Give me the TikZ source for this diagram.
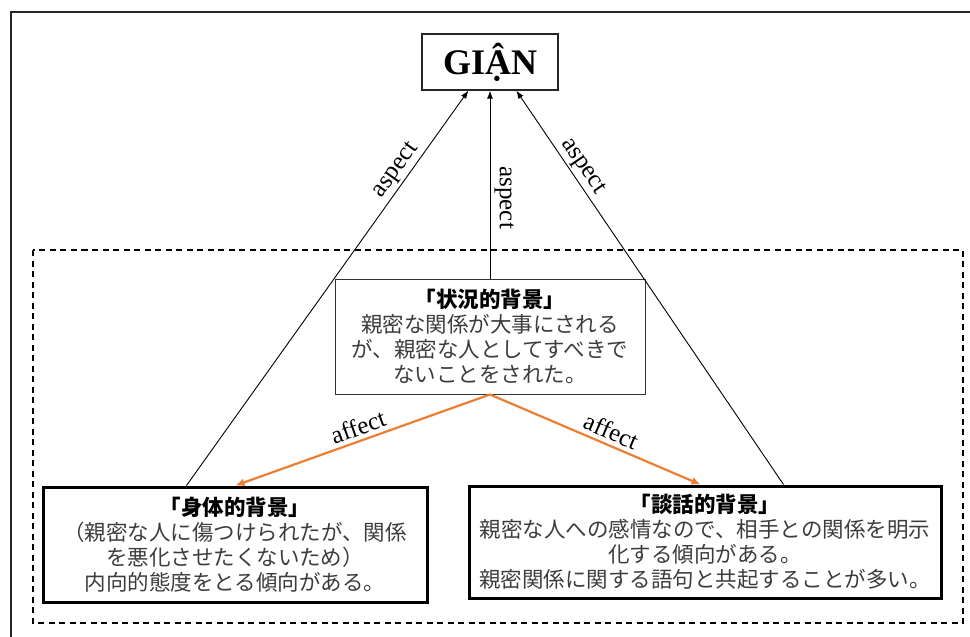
\documentclass[tikz,border=0pt]{standalone}
\usepackage{fontspec}
\setmainfont{Liberation Serif}
\newfontfamily\jp{Noto Sans CJK JP}
\usetikzlibrary{arrows.meta,calc}
\definecolor{orangeline}{HTML}{ED7D31}
\definecolor{textgray}{HTML}{3C3C3C}
\tikzset{
  jpbox/.style={draw, rectangle, align=center, inner sep=0pt, text=textgray,
    font={\jp\fontsize{21.5}{25}\selectfont}},
  thinbox/.style={jpbox, draw=black!80, line width=1pt},
  thickbox/.style={jpbox, draw=black, line width=3pt},
  aspectarrow/.style={draw=black, line width=0.9pt, -{Latex[length=8pt,width=6pt]}},
  affectarrow/.style={draw=orangeline, line width=2.2pt, -{Latex[length=9pt,width=8pt]}},
  lbl/.style={font=\fontsize{25}{27}\selectfont, text=black, inner sep=2pt}
}
\begin{document}
\begin{tikzpicture}[x=1pt,y=-1pt]
\useasboundingbox (0,0) rectangle (970,637);
% outer frame (partial)
\draw[black!85, line width=1.3pt] (11,637) -- (11,12) -- (970,12);
% dashed region
\draw[black, line width=1.4pt, dash pattern=on 6pt off 4.5pt] (33,250) rectangle (963,623);

% title node
\node[draw=black!85, line width=1.3pt, minimum width=136pt, minimum height=56pt, inner sep=0pt,
      font=\fontsize{36}{40}\selectfont\bfseries] (G) at (490,62) {GIẬN};

% middle box
\node[thinbox, minimum width=310pt, minimum height=115pt] (M) at (490,336.5)
  {{\bfseries\color{black}「状況的背景」}\\親密な関係が大事にされる\\が、親密な人としてすべきで\\ないことをされた。};

% left box
\node[thickbox, minimum width=384pt, minimum height=115pt] (L) at (235,544.5)
  {{\bfseries\color{black}「身体的背景」}\\（親密な人に傷つけられたが、関係\\を悪化させたくないため）\\内向的態度をとる傾向がある。};

% right box
\node[thickbox, minimum width=472pt, minimum height=112pt] (R) at (705,542)
  {{\bfseries\color{black}「談話的背景」}\\親密な人への感情なので、相手との関係を明示\\化する傾向がある。\\親密関係に関する語句と共起することが多い。};

% connector end points
\coordinate (Lstart) at ([xshift=145pt]L.north west);
\coordinate (Rstart) at ([xshift=316pt]R.north west);
\coordinate (Gleft) at ([xshift=47pt]G.south west);
\coordinate (Gright) at ([xshift=95pt]G.south west);
\coordinate (Ltip) at ([xshift=194pt]L.north west);
\coordinate (Rtip) at ([xshift=233pt]R.north west);

% aspect arrows
\draw[aspectarrow] (Lstart) -- node[lbl, pos=0.78, sloped, above] {aspect} (Gleft);
\draw[aspectarrow] (M.north) -- node[lbl, pos=0.43, rotate=-90, anchor=south, inner sep=4pt] {aspect} (G.south);
\draw[aspectarrow] (Rstart) -- node[lbl, pos=0.79, sloped, above] {aspect} (Gright);

% affect arrows
\draw[affectarrow] (M.south) -- node[lbl, pos=0.5, sloped, above, inner sep=4pt] {affect} (Ltip);
\draw[affectarrow] (M.south) -- node[lbl, pos=0.55, sloped, above, inner sep=4pt] {affect} (Rtip);
\end{tikzpicture}
\end{document}
